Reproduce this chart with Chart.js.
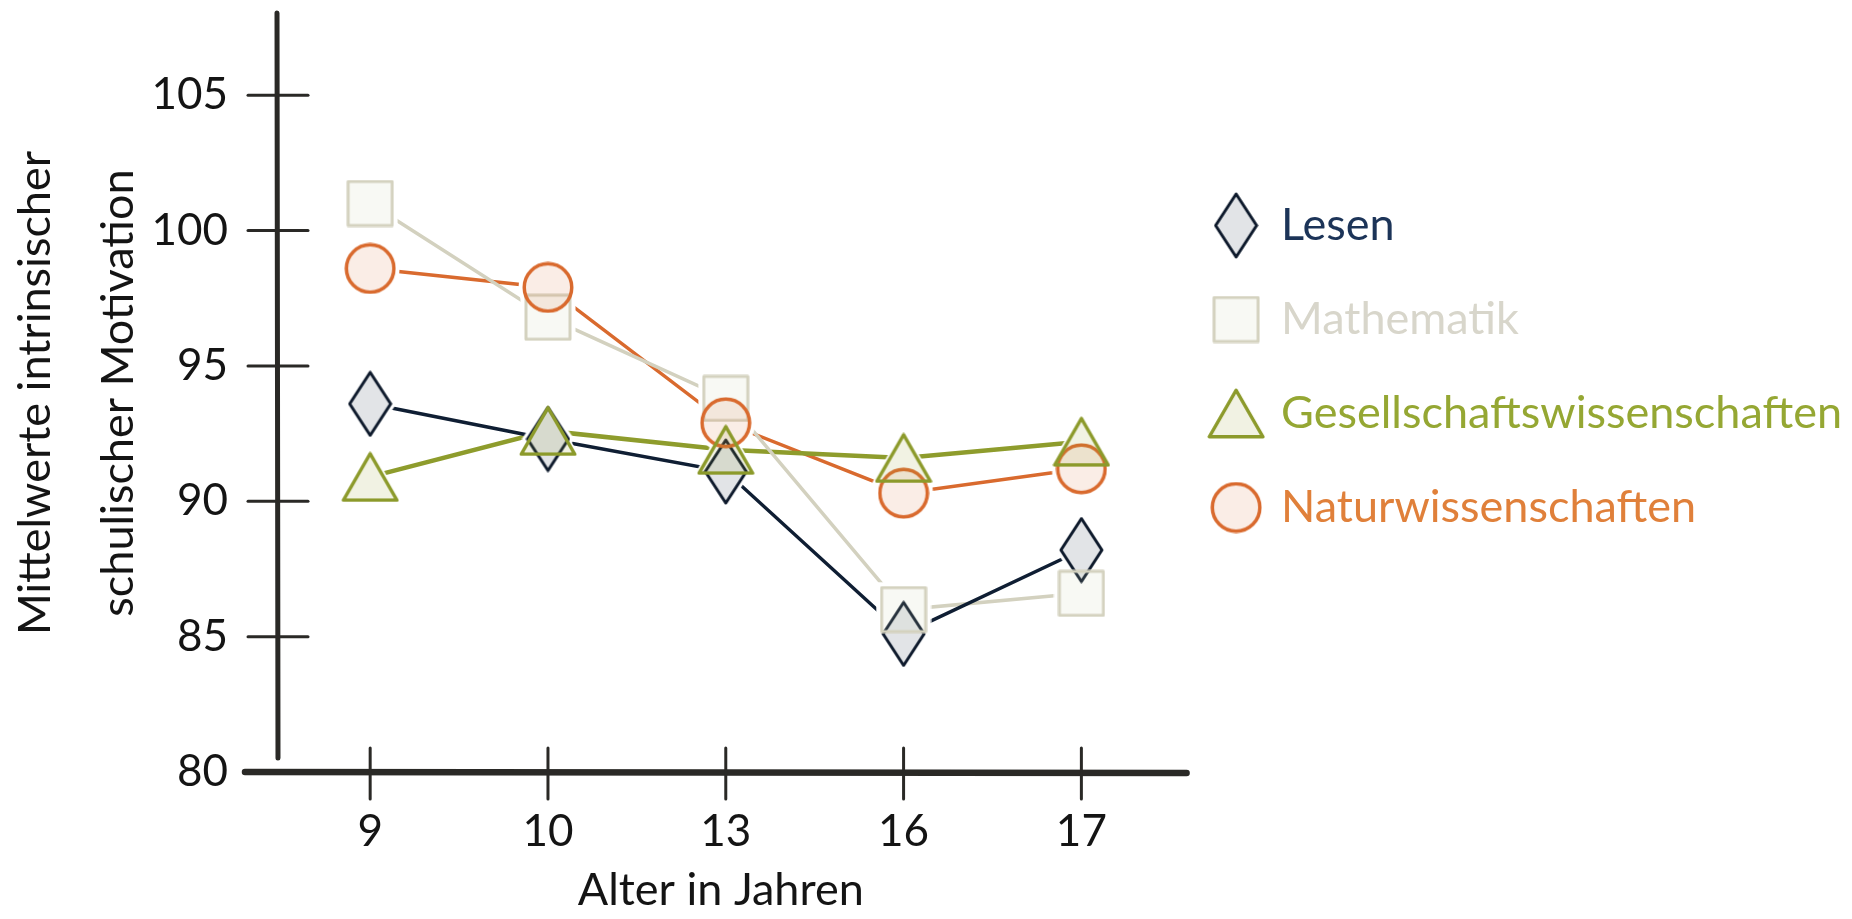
<!DOCTYPE html>
<html>
<head>
<meta charset="utf-8">
<script src="https://cdn.jsdelivr.net/npm/chart.js@4.4.1/dist/chart.umd.min.js"></script>
<style>
  html, body { margin: 0; padding: 0; background: #fff; }
  #wrap { width: 1852px; height: 919px; }
</style>
</head>
<body>
<div id="wrap"><canvas id="motivChart"></canvas></div>
<script>
// Alter in Jahren (x categories)
const ages = ['9', '10', '13', '16', '17'];

// Mittelwerte je Fach
const lesen = [93.6, 92.3, 91.1, 85.1, 88.2];
const mathematik = [101.0, 96.8, 93.8, 86.0, 86.6];
const gesellschaft = [90.9, 92.6, 91.9, 91.6, 92.2];
const natur = [98.6, 97.9, 92.9, 90.3, 91.2];

const yTicks = [80, 85, 90, 95, 100, 105];

// marker images (used for the plot and the legend)
function makeMarker(shape, w, h, stroke, fill, lw) {
    const c = document.createElement('canvas');
    c.width = w;
    c.height = h;
    const g = c.getContext('2d');
    const m = lw / 2 + 0.5;
    g.beginPath();
    if (shape === 'diamond') {
        g.moveTo(w / 2, m);
        g.lineTo(w - m, h / 2);
        g.lineTo(w / 2, h - m);
        g.lineTo(m, h / 2);
        g.closePath();
    } else if (shape === 'square') {
        g.rect(m, m, w - 2 * m, h - 2 * m);
    } else if (shape === 'triangle') {
        g.moveTo(w / 2, m);
        g.lineTo(w - m, h - m);
        g.lineTo(m, h - m);
        g.closePath();
    } else {
        g.ellipse(w / 2, h / 2, w / 2 - m, h / 2 - m, 0, 0, Math.PI * 2);
    }
    g.fillStyle = fill;
    g.fill();
    g.lineJoin = 'round';
    g.lineWidth = lw;
    g.strokeStyle = stroke;
    g.stroke();
    return c;
}

const gap = 4;
const shapes = [
    { shape: 'diamond', w: 45, h: 67, stroke: '#0e1a2c', fill: 'rgba(15,30,55,0.12)', lw: 3 },
    { shape: 'square', w: 48, h: 48, stroke: '#d4d2bf', fill: 'rgba(200,210,170,0.13)', lw: 3 },
    { shape: 'triangle', w: 58, h: 51, stroke: '#8c9a2b', fill: 'rgba(143,156,42,0.13)', lw: 3.5 },
    { shape: 'circle', w: 52, h: 52, stroke: '#d96a2e', fill: 'rgba(217,105,47,0.12)', lw: 3.5 }
];
const markers = shapes.map(s => makeMarker(s.shape, s.w, s.h, s.stroke, s.fill, s.lw));
const masks = shapes.map(s => makeMarker(s.shape, s.w + 2 * gap, s.h + 2 * gap, '#000', '#000', s.lw));
const markerOrder = [0, 1, 3, 2];

const textColors = ['#1c3458', '#d8d6cb', '#95a733', '#e0803a'];

function toPoints(values) {
    return values.map((v, i) => ({ x: i, y: v }));
}

// hand drawn looking axes, placed via the chart's scales
const sketchAxes = {
    id: 'sketchAxes',
    beforeDatasetsDraw(chart) {
        const { ctx, chartArea: a, scales: { x, y } } = chart;
        ctx.save();
        ctx.strokeStyle = '#2a2926';
        ctx.lineCap = 'round';
        function line(x1, y1, x2, y2) {
            ctx.beginPath();
            ctx.moveTo(x1, y1);
            ctx.lineTo(x2, y2);
            ctx.stroke();
        }
        ctx.lineWidth = 5;
        line(a.left, a.top - 1, a.left + 1, a.bottom - 14);
        ctx.lineWidth = 6.5;
        line(a.left - 32, a.bottom, a.right + 22, a.bottom + 1);
        ctx.lineWidth = 3;
        y.ticks.forEach(t => {
            if (t.value === yTicks[0]) return;
            const py = y.getPixelForValue(t.value);
            line(a.left - 29, py, a.left + 31, py);
        });
        x.ticks.forEach(t => {
            const px = x.getPixelForValue(t.value);
            line(px, a.bottom - 24, px, a.bottom + 27);
        });
        ctx.restore();
    }
};

// lines stop short of the markers, then the markers go on top
const sketchMarkers = {
    id: 'sketchMarkers',
    afterDatasetsDraw(chart) {
        const ctx = chart.ctx;
        ctx.save();
        ctx.globalCompositeOperation = 'destination-out';
        chart.data.datasets.forEach((ds, i) => {
            const meta = chart.getDatasetMeta(i);
            if (meta.hidden) return;
            const mk = masks[i];
            meta.data.forEach(p => ctx.drawImage(mk, p.x - mk.width / 2, p.y - mk.height / 2));
        });
        ctx.globalCompositeOperation = 'source-over';
        markerOrder.forEach(i => {
            const meta = chart.getDatasetMeta(i);
            if (meta.hidden) return;
            const mk = markers[i];
            meta.data.forEach(p => ctx.drawImage(mk, p.x - mk.width / 2, p.y - mk.height / 2));
        });
        ctx.restore();
    }
};

Chart.defaults.font.family = 'Lato, "Open Sans", sans-serif';
Chart.defaults.color = '#141414';

const ctx = document.getElementById('motivChart').getContext('2d');
new Chart(ctx, {
    type: 'line',
    data: {
        datasets: [
            { label: 'Lesen', data: toPoints(lesen), borderColor: '#0f1e33', borderWidth: 3.5 },
            { label: 'Mathematik', data: toPoints(mathematik), borderColor: '#d3d1bf', borderWidth: 3.5 },
            { label: 'Gesellschaftswissenschaften', data: toPoints(gesellschaft), borderColor: '#8e9c2c', borderWidth: 4.5 },
            { label: 'Naturwissenschaften', data: toPoints(natur), borderColor: '#d96a2e', borderWidth: 3.5 }
        ].map((d, i) => Object.assign(d, {
            pointStyle: markers[i],
            pointRadius: 0,
            pointHoverRadius: 0,
            fill: false,
            tension: 0
        }))
    },
    options: {
        responsive: true,
        maintainAspectRatio: false,
        animation: false,
        layout: { padding: { top: 14, left: 0, right: 0, bottom: 0 } },
        plugins: {
            tooltip: { enabled: false },
            legend: {
                position: 'right',
                align: 'start',
                maxWidth: 760,
                title: {
                    display: true,
                    text: ' ',
                    font: { size: 12, lineHeight: 1 },
                    padding: { top: 128, bottom: 0 }
                },
                labels: {
                    usePointStyle: true,
                    boxWidth: 49,
                    boxHeight: 45,
                    padding: 49,
                    font: { size: 45 },
                    generateLabels(chart) {
                        const items = Chart.defaults.plugins.legend.labels.generateLabels(chart);
                        items.forEach(it => { it.fontColor = textColors[it.datasetIndex]; });
                        return items;
                    }
                }
            }
        },
        scales: {
            x: {
                type: 'linear',
                min: -0.524,
                max: 4.468,
                afterFit(scale) {
                    scale.height = 147;
                    scale.paddingLeft = 0;
                    scale.paddingRight = 0;
                },
                afterBuildTicks(scale) { scale.ticks = ages.map((a, i) => ({ value: i })); },
                grid: { display: false, drawTicks: false },
                border: { display: false },
                ticks: {
                    padding: 33,
                    font: { size: 44 },
                    color: '#141414',
                    callback: v => ages[v]
                },
                title: {
                    display: true,
                    text: 'Alter in Jahren',
                    font: { size: 45 },
                    color: '#141414',
                    padding: { top: 0, bottom: 2 }
                }
            },
            y: {
                min: 80,
                max: 108,
                afterFit(scale) {
                    scale.width = 277;
                    scale.paddingTop = 0;
                    scale.paddingBottom = 0;
                },
                afterBuildTicks(scale) { scale.ticks = yTicks.map(v => ({ value: v })); },
                grid: { display: false, drawTicks: false },
                border: { display: false },
                ticks: {
                    padding: 49,
                    font: { size: 44 },
                    color: '#141414'
                },
                title: {
                    display: true,
                    text: ['Mittelwerte intrinsischer', 'schulischer Motivation'],
                    font: { size: 45, lineHeight: 1.84 },
                    color: '#141414',
                    padding: { top: -6, bottom: 0 }
                }
            }
        }
    },
    plugins: [sketchAxes, sketchMarkers]
});
</script>
</body>
</html>
